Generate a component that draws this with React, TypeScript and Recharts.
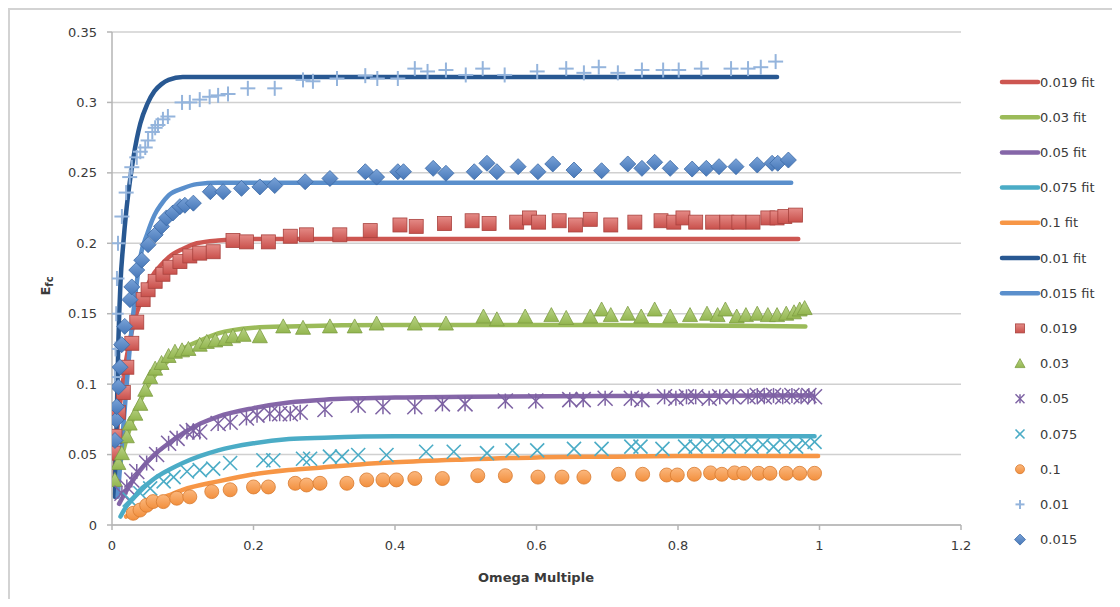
import React from 'react';
import { ComposedChart, Line, Scatter, XAxis, YAxis, CartesianGrid } from 'recharts';

type Pt = [number, number];

// Axis ticks
const xTicks = [0, 0.2, 0.4, 0.6, 0.8, 1, 1.2];
const yTicks = [0, 0.05, 0.1, 0.15, 0.2, 0.25, 0.3, 0.35];

// Fitted curves
const fit019: Pt[] = [[0.002, 0.035], [0.006, 0.06], [0.01, 0.08], [0.015, 0.1], [0.02, 0.117], [0.025, 0.13], [0.03, 0.142], [0.04, 0.158], [0.05, 0.17], [0.06, 0.179], [0.07, 0.185], [0.08, 0.19], [0.1, 0.196], [0.12, 0.2], [0.15, 0.202], [0.2, 0.203], [0.4, 0.203], [0.7, 0.203], [0.97, 0.203]];
const fit03: Pt[] = [[0.004, 0.022], [0.01, 0.04], [0.02, 0.06], [0.03, 0.076], [0.04, 0.088], [0.05, 0.098], [0.06, 0.106], [0.08, 0.117], [0.1, 0.125], [0.125, 0.131], [0.15, 0.136], [0.2, 0.14], [0.25, 0.141], [0.4, 0.142], [0.7, 0.142], [0.98, 0.141]];
const fit05: Pt[] = [[0.01, 0.015], [0.02, 0.024], [0.03, 0.032], [0.04, 0.039], [0.05, 0.045], [0.06, 0.05], [0.08, 0.058], [0.1, 0.065], [0.125, 0.072], [0.15, 0.077], [0.2, 0.083], [0.25, 0.087], [0.3, 0.089], [0.4, 0.0905], [0.5, 0.091], [0.7, 0.0915], [0.99, 0.092]];
const fit075: Pt[] = [[0.012, 0.006], [0.02, 0.013], [0.03, 0.019], [0.04, 0.025], [0.05, 0.029], [0.06, 0.033], [0.08, 0.039], [0.1, 0.044], [0.125, 0.049], [0.15, 0.053], [0.2, 0.058], [0.25, 0.061], [0.3, 0.062], [0.4, 0.063], [0.6, 0.063], [0.8, 0.063], [0.993, 0.063]];
const fit1: Pt[] = [[0.02, 0.006], [0.03, 0.009], [0.04, 0.012], [0.06, 0.017], [0.08, 0.021], [0.1, 0.025], [0.15, 0.031], [0.2, 0.036], [0.25, 0.039], [0.3, 0.041], [0.35, 0.043], [0.4, 0.0445], [0.5, 0.0465], [0.6, 0.048], [0.7, 0.0485], [0.8, 0.049], [0.998, 0.049]];
const fit01: Pt[] = [[0.004, 0.02], [0.006, 0.06], [0.009, 0.13], [0.012, 0.172], [0.016, 0.2], [0.02, 0.222], [0.025, 0.243], [0.03, 0.26], [0.035, 0.274], [0.04, 0.285], [0.05, 0.299], [0.06, 0.308], [0.07, 0.313], [0.08, 0.316], [0.1, 0.318], [0.15, 0.318], [0.3, 0.318], [0.5, 0.318], [0.7, 0.318], [0.94, 0.318]];
const fit015: Pt[] = [[0.008, 0.02], [0.012, 0.045], [0.016, 0.07], [0.02, 0.095], [0.025, 0.125], [0.03, 0.15], [0.035, 0.172], [0.04, 0.19], [0.05, 0.207], [0.06, 0.22], [0.07, 0.228], [0.08, 0.234], [0.1, 0.239], [0.12, 0.242], [0.15, 0.243], [0.3, 0.243], [0.6, 0.243], [0.96, 0.243]];

// Measured points
const pts019: Pt[] = [[0.0018, 0.051], [0.0042, 0.063], [0.009, 0.08], [0.016, 0.094], [0.021, 0.112], [0.028, 0.129], [0.035, 0.144], [0.044, 0.16], [0.051, 0.167], [0.061, 0.173], [0.072, 0.178], [0.082, 0.183], [0.096, 0.187], [0.11, 0.191], [0.124, 0.193], [0.143, 0.194], [0.171, 0.202], [0.19, 0.201], [0.221, 0.201], [0.252, 0.205], [0.275, 0.206], [0.322, 0.206], [0.365, 0.209], [0.407, 0.213], [0.43, 0.212], [0.47, 0.214], [0.509, 0.216], [0.533, 0.214], [0.572, 0.215], [0.59, 0.218], [0.603, 0.215], [0.632, 0.216], [0.655, 0.213], [0.676, 0.217], [0.705, 0.213], [0.739, 0.215], [0.776, 0.216], [0.794, 0.215], [0.807, 0.218], [0.825, 0.215], [0.849, 0.215], [0.869, 0.215], [0.886, 0.215], [0.906, 0.215], [0.927, 0.218], [0.94, 0.218], [0.951, 0.219], [0.966, 0.22]];
const pts03: Pt[] = [[0.004, 0.032], [0.009, 0.044], [0.014, 0.051], [0.021, 0.063], [0.025, 0.072], [0.033, 0.079], [0.04, 0.086], [0.047, 0.096], [0.054, 0.105], [0.061, 0.111], [0.07, 0.115], [0.08, 0.12], [0.089, 0.123], [0.099, 0.124], [0.108, 0.125], [0.124, 0.128], [0.134, 0.13], [0.146, 0.131], [0.16, 0.132], [0.171, 0.134], [0.186, 0.135], [0.209, 0.134], [0.242, 0.141], [0.27, 0.14], [0.308, 0.141], [0.343, 0.141], [0.374, 0.143], [0.428, 0.143], [0.472, 0.143], [0.525, 0.148], [0.544, 0.146], [0.584, 0.148], [0.621, 0.149], [0.642, 0.147], [0.676, 0.148], [0.692, 0.153], [0.705, 0.149], [0.729, 0.15], [0.748, 0.148], [0.767, 0.153], [0.789, 0.148], [0.817, 0.149], [0.841, 0.15], [0.856, 0.149], [0.867, 0.153], [0.883, 0.148], [0.896, 0.149], [0.912, 0.15], [0.927, 0.149], [0.94, 0.149], [0.953, 0.15], [0.964, 0.151], [0.972, 0.153], [0.979, 0.154]];
const pts05: Pt[] = [[0.014, 0.0225], [0.021, 0.027], [0.028, 0.032], [0.035, 0.038], [0.049, 0.044], [0.063, 0.05], [0.08, 0.058], [0.092, 0.0615], [0.106, 0.066], [0.115, 0.067], [0.124, 0.066], [0.15, 0.072], [0.167, 0.073], [0.19, 0.076], [0.205, 0.078], [0.223, 0.079], [0.237, 0.079], [0.252, 0.079], [0.266, 0.08], [0.301, 0.082], [0.348, 0.085], [0.383, 0.084], [0.428, 0.084], [0.467, 0.086], [0.499, 0.086], [0.556, 0.088], [0.599, 0.088], [0.647, 0.089], [0.666, 0.089], [0.697, 0.09], [0.734, 0.09], [0.749, 0.089], [0.781, 0.091], [0.797, 0.09], [0.812, 0.091], [0.825, 0.091], [0.844, 0.09], [0.859, 0.091], [0.878, 0.091], [0.899, 0.091], [0.912, 0.092], [0.922, 0.091], [0.935, 0.092], [0.948, 0.091], [0.961, 0.092], [0.974, 0.091], [0.985, 0.092], [0.993, 0.091]];
const pts075: Pt[] = [[0.025, 0.018], [0.04, 0.0225], [0.054, 0.026], [0.073, 0.031], [0.087, 0.034], [0.106, 0.038], [0.124, 0.039], [0.143, 0.04], [0.167, 0.044], [0.214, 0.046], [0.228, 0.046], [0.27, 0.047], [0.28, 0.047], [0.308, 0.0485], [0.325, 0.0485], [0.348, 0.0497], [0.388, 0.0497], [0.444, 0.052], [0.483, 0.052], [0.53, 0.051], [0.566, 0.053], [0.601, 0.053], [0.653, 0.054], [0.692, 0.054], [0.734, 0.0556], [0.747, 0.0556], [0.778, 0.054], [0.81, 0.0556], [0.825, 0.0556], [0.841, 0.057], [0.857, 0.057], [0.872, 0.0556], [0.888, 0.057], [0.904, 0.0556], [0.92, 0.057], [0.935, 0.0556], [0.951, 0.057], [0.967, 0.0556], [0.98, 0.058], [0.993, 0.059]];
const pts1: Pt[] = [[0.03, 0.0083], [0.0396, 0.0106], [0.049, 0.014], [0.058, 0.0166], [0.0725, 0.0166], [0.0915, 0.019], [0.11, 0.02], [0.141, 0.0237], [0.167, 0.025], [0.2, 0.027], [0.221, 0.027], [0.259, 0.0296], [0.275, 0.0284], [0.294, 0.0296], [0.332, 0.0296], [0.36, 0.032], [0.383, 0.032], [0.402, 0.032], [0.428, 0.033], [0.467, 0.033], [0.517, 0.035], [0.556, 0.035], [0.602, 0.034], [0.636, 0.034], [0.667, 0.034], [0.716, 0.036], [0.75, 0.036], [0.784, 0.0355], [0.799, 0.0355], [0.823, 0.036], [0.846, 0.037], [0.862, 0.036], [0.88, 0.037], [0.893, 0.0367], [0.914, 0.0367], [0.93, 0.0367], [0.953, 0.0367], [0.972, 0.0367], [0.993, 0.0367]];
const pts01: Pt[] = [[0.004, 0.105], [0.005, 0.125], [0.006, 0.15], [0.007, 0.175], [0.0085, 0.2], [0.014, 0.219], [0.02, 0.236], [0.025, 0.247], [0.028, 0.254], [0.035, 0.261], [0.04, 0.265], [0.047, 0.268], [0.051, 0.273], [0.057, 0.279], [0.061, 0.282], [0.065, 0.284], [0.072, 0.288], [0.079, 0.29], [0.099, 0.3], [0.11, 0.3], [0.124, 0.302], [0.138, 0.304], [0.15, 0.305], [0.164, 0.306], [0.192, 0.31], [0.23, 0.31], [0.27, 0.316], [0.284, 0.315], [0.318, 0.317], [0.358, 0.319], [0.375, 0.317], [0.404, 0.317], [0.428, 0.324], [0.446, 0.322], [0.472, 0.323], [0.5, 0.3195], [0.524, 0.324], [0.555, 0.3195], [0.601, 0.322], [0.642, 0.324], [0.667, 0.321], [0.688, 0.325], [0.715, 0.321], [0.749, 0.323], [0.779, 0.323], [0.801, 0.323], [0.833, 0.324], [0.875, 0.324], [0.899, 0.324], [0.917, 0.325], [0.938, 0.329]];
const pts015: Pt[] = [[0.0042, 0.06], [0.0057, 0.0745], [0.0066, 0.084], [0.009, 0.098], [0.0113, 0.112], [0.0137, 0.128], [0.018, 0.141], [0.0254, 0.16], [0.028, 0.169], [0.035, 0.181], [0.042, 0.188], [0.051, 0.199], [0.061, 0.206], [0.07, 0.212], [0.077, 0.218], [0.086, 0.2215], [0.096, 0.226], [0.103, 0.227], [0.115, 0.2285], [0.139, 0.2366], [0.157, 0.2366], [0.183, 0.239], [0.209, 0.24], [0.23, 0.241], [0.273, 0.2437], [0.308, 0.246], [0.358, 0.2508], [0.374, 0.247], [0.404, 0.2508], [0.412, 0.2508], [0.454, 0.2532], [0.472, 0.2497], [0.512, 0.2508], [0.53, 0.2568], [0.544, 0.2508], [0.574, 0.2544], [0.602, 0.2508], [0.623, 0.2563], [0.653, 0.252], [0.692, 0.2515], [0.729, 0.2563], [0.749, 0.2532], [0.767, 0.2575], [0.789, 0.2532], [0.82, 0.2527], [0.84, 0.2532], [0.858, 0.2544], [0.882, 0.2544], [0.912, 0.2556], [0.933, 0.2568], [0.941, 0.2568], [0.956, 0.2591]];

const toRows = (pts: Pt[]) => pts.map(([x, y]) => ({ x, y }));

const FONT = '"DejaVu Sans", Verdana, sans-serif';
const TEXT = '#3a3a3a';

type MarkerKind = 'square' | 'triangle' | 'star' | 'cross' | 'circle' | 'plus' | 'diamond';

const fitSeries = [
  { name: '0.019 fit', data: fit019, color: '#cd5651' },
  { name: '0.03 fit', data: fit03, color: '#9bbb59' },
  { name: '0.05 fit', data: fit05, color: '#8566a8' },
  { name: '0.075 fit', data: fit075, color: '#4bacc6' },
  { name: '0.1 fit', data: fit1, color: '#f79646' },
  { name: '0.01 fit', data: fit01, color: '#285892' },
  { name: '0.015 fit', data: fit015, color: '#5a8fcc' },
];

const pointSeries: { name: string; data: Pt[]; kind: MarkerKind }[] = [
  { name: '0.019', data: pts019, kind: 'square' },
  { name: '0.03', data: pts03, kind: 'triangle' },
  { name: '0.05', data: pts05, kind: 'star' },
  { name: '0.075', data: pts075, kind: 'cross' },
  { name: '0.1', data: pts1, kind: 'circle' },
  { name: '0.01', data: pts01, kind: 'plus' },
  { name: '0.015', data: pts015, kind: 'diamond' },
];

function markerSvg(kind: MarkerKind, cx: number, cy: number, s: number) {
  const h = s / 2;
  switch (kind) {
    case 'square':
      return <rect x={cx - h} y={cy - h} width={s} height={s} fill="url(#gRed)" stroke="#a9423e" strokeWidth={0.8} />;
    case 'triangle':
      return <polygon points={`${cx},${cy - h - 0.5} ${cx + h + 0.5},${cy + h - 0.5} ${cx - h - 0.5},${cy + h - 0.5}`} fill="url(#gGreen)" stroke="#7e9d43" strokeWidth={0.8} />;
    case 'diamond':
      return <polygon points={`${cx},${cy - h - 1} ${cx + h + 1},${cy} ${cx},${cy + h + 1} ${cx - h - 1},${cy}`} fill="url(#gBlue)" stroke="#3b6aa6" strokeWidth={0.8} />;
    case 'circle':
      return <circle cx={cx} cy={cy} r={h} fill="url(#gOrange)" stroke="#d87b30" strokeWidth={0.8} />;
    case 'cross':
      return (
        <g stroke="#4bacc6" strokeWidth={1.6}>
          <line x1={cx - h} y1={cy - h} x2={cx + h} y2={cy + h} />
          <line x1={cx - h} y1={cy + h} x2={cx + h} y2={cy - h} />
        </g>
      );
    case 'star':
      return (
        <g stroke="#7d62a3" strokeWidth={1.5}>
          <line x1={cx - h} y1={cy - h} x2={cx + h} y2={cy + h} />
          <line x1={cx - h} y1={cy + h} x2={cx + h} y2={cy - h} />
          <line x1={cx} y1={cy - h} x2={cx} y2={cy + h} />
        </g>
      );
    case 'plus':
    default:
      return (
        <g stroke="#94b4dc" strokeWidth={2}>
          <line x1={cx - h} y1={cy} x2={cx + h} y2={cy} />
          <line x1={cx} y1={cy - h} x2={cx} y2={cy + h} />
        </g>
      );
  }
}

const makeShape = (kind: MarkerKind) => (props: any) => {
  const { cx, cy } = props;
  if (cx == null || cy == null) return <g />;
  return markerSvg(kind, cx, cy, kind === 'star' || kind === 'plus' ? 15 : 14);
};

const Gradients = () => (
  <>
    <linearGradient id="gRed" x1="0" y1="0" x2="0" y2="1">
      <stop offset="0" stopColor="#e48a86" />
      <stop offset="1" stopColor="#c9504b" />
    </linearGradient>
    <linearGradient id="gGreen" x1="0" y1="0" x2="0" y2="1">
      <stop offset="0" stopColor="#b9d388" />
      <stop offset="1" stopColor="#93b64f" />
    </linearGradient>
    <linearGradient id="gBlue" x1="0" y1="0" x2="0" y2="1">
      <stop offset="0" stopColor="#7aa3d8" />
      <stop offset="1" stopColor="#4677b8" />
    </linearGradient>
    <linearGradient id="gOrange" x1="0" y1="0" x2="0" y2="1">
      <stop offset="0" stopColor="#fbb77d" />
      <stop offset="1" stopColor="#f28f3d" />
    </linearGradient>
  </>
);

const LEGEND_TOP = 82;
const LEGEND_STEP = 35.2;

function LegendOverlay() {
  return (
    <svg width={1120} height={607} style={{ position: 'absolute', left: 0, top: 0, pointerEvents: 'none' }}>
      <defs>
        <Gradients />
      </defs>
      {fitSeries.map((s, i) => {
        const y = LEGEND_TOP + i * LEGEND_STEP;
        return (
          <g key={s.name}>
            <line x1={1002} y1={y} x2={1038} y2={y} stroke={s.color} strokeWidth={4.5} strokeLinecap="round" />
            <text x={1040} y={y + 4.5} fontFamily={FONT} fontSize={13} fill={TEXT}>{s.name}</text>
          </g>
        );
      })}
      {pointSeries.map((s, i) => {
        const y = LEGEND_TOP + (i + fitSeries.length) * LEGEND_STEP;
        return (
          <g key={s.name}>
            {markerSvg(s.kind, 1020, y, 9)}
            <text x={1040} y={y + 4.5} fontFamily={FONT} fontSize={13} fill={TEXT}>{s.name}</text>
          </g>
        );
      })}
      <text x={536} y={582} textAnchor="middle" fontFamily={FONT} fontSize={13} fontWeight="bold" fill={TEXT}>Omega Multiple</text>
      <text transform="translate(50,286) rotate(-90)" textAnchor="middle" fontFamily={FONT} fontSize={13} fontWeight="bold" fill={TEXT}>
        E<tspan fontSize={10} dy={3}>fc</tspan>
      </text>
    </svg>
  );
}

export default function App() {
  return (
    <div style={{ position: 'relative', width: 1120, height: 607, margin: -8, background: '#fff', overflow: 'hidden' }}>
      <div style={{ position: 'absolute', left: 7, top: 7, width: 1120, height: 607, borderTop: '3px solid #d3d3d3', borderLeft: '3px solid #d3d3d3' }} />
      <div style={{ position: 'absolute', left: 0, top: 0 }}>
        <ComposedChart width={1120} height={607} margin={{ top: 32, right: 159, bottom: 52, left: 52 }}>
          <defs>
            <Gradients />
          </defs>
          <CartesianGrid vertical={false} stroke="#d0d0d0" strokeWidth={1.5} />
          <XAxis
            type="number"
            dataKey="x"
            domain={[0, 1.2]}
            ticks={xTicks}
            height={30}
            tickSize={5}
            tickMargin={11}
            axisLine={{ stroke: '#b5b5b5', strokeWidth: 1.5 }}
            tickLine={{ stroke: '#b5b5b5', strokeWidth: 1.5 }}
            tick={{ fill: TEXT, fontSize: 13, fontFamily: FONT }}
            allowDataOverflow
          />
          <YAxis
            type="number"
            dataKey="y"
            domain={[0, 0.35]}
            ticks={yTicks}
            width={60}
            tickSize={5}
            tickMargin={10}
            axisLine={{ stroke: '#b5b5b5', strokeWidth: 1.5 }}
            tickLine={{ stroke: '#b5b5b5', strokeWidth: 1.5 }}
            tick={{ fill: TEXT, fontSize: 13, fontFamily: FONT }}
            allowDataOverflow
          />
          {fitSeries.map((s) => (
            <Line
              key={s.name}
              name={s.name}
              data={toRows(s.data)}
              dataKey="y"
              type="monotone"
              stroke={s.color}
              strokeWidth={4.5}
              strokeLinecap="round"
              dot={false}
              activeDot={false}
              isAnimationActive={false}
            />
          ))}
          {pointSeries.map((s) => (
            <Scatter
              key={s.name}
              name={s.name}
              data={toRows(s.data)}
              dataKey="y"
              shape={makeShape(s.kind)}
              isAnimationActive={false}
            />
          ))}
        </ComposedChart>
      </div>
      <LegendOverlay />
    </div>
  );
}
